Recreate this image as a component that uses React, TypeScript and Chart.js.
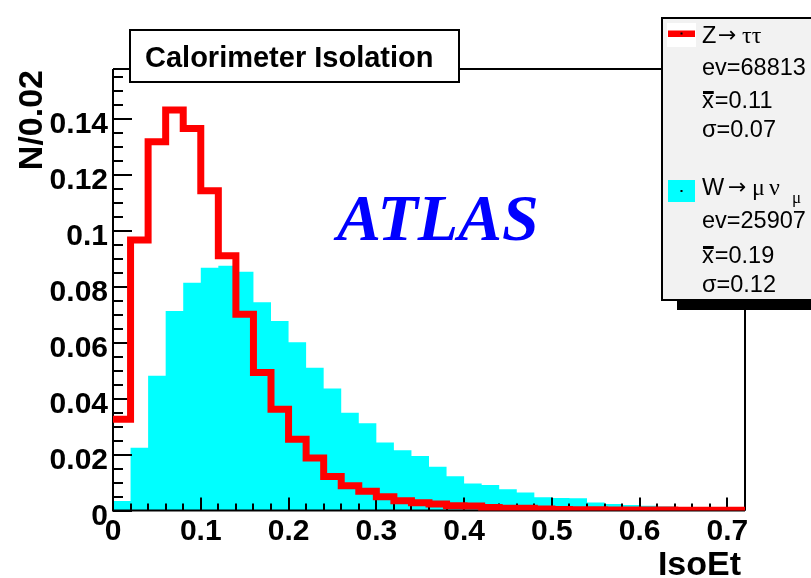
import React, { useEffect, useRef } from "react";
import { Chart, registerables } from "chart.js";

Chart.register(...registerables);

// ---- data ----
const binEdges = [
  0, 0.02, 0.04, 0.06, 0.08, 0.1, 0.12, 0.14, 0.16, 0.18, 0.2, 0.22, 0.24,
  0.26, 0.28, 0.3, 0.32, 0.34, 0.36, 0.38, 0.4, 0.42, 0.44, 0.46, 0.48, 0.5,
  0.52, 0.54, 0.56, 0.58, 0.6, 0.62, 0.64, 0.66, 0.68, 0.7, 0.72,
];

// Z -> tau tau (red outline), N/0.02 per bin
const zTauTau = [
  0.0327, 0.0968, 0.132, 0.1433, 0.1367, 0.1144, 0.0912, 0.0702, 0.0494,
  0.0362, 0.0255, 0.0188, 0.0122, 0.0089, 0.0069, 0.0049, 0.0035, 0.0028,
  0.0023, 0.0017, 0.0016, 0.0011, 0.0008, 0.0008, 0.0005, 0.0004, 0.0003,
  0.0003, 0.0002, 0.0002, 0.0002, 0.0002, 0.0001, 0.0001, 0.0001, 0.0001,
];

// W -> mu nu (cyan filled)
const wMuNu = [
  0.0034, 0.0225, 0.0482, 0.0714, 0.0815, 0.0869, 0.0876, 0.0854, 0.0745,
  0.0678, 0.0602, 0.0511, 0.0437, 0.035, 0.0312, 0.0243, 0.0216, 0.0195,
  0.0157, 0.0123, 0.0097, 0.0091, 0.0076, 0.0064, 0.0047, 0.0045, 0.0044,
  0.0029, 0.0023, 0.002, 0.0017, 0.0014, 0.0009, 0.0006, 0.0004, 0.0003,
];

const xTickValues = [0, 0.1, 0.2, 0.3, 0.4, 0.5, 0.6, 0.7];
const xTickLabels = ["0", "0.1", "0.2", "0.3", "0.4", "0.5", "0.6", "0.7"];
const yTickValues = [0, 0.02, 0.04, 0.06, 0.08, 0.1, 0.12, 0.14];
const yTickLabels = ["0", "0.02", "0.04", "0.06", "0.08", "0.1", "0.12", "0.14"];

const X_MIN = 0;
const X_MAX = 0.72;
const Y_MIN = 0;
const Y_MAX = 0.158;

const titleText = "Calorimeter Isolation";
const xTitle = "IsoEt";
const yTitle = "N/0.02";
const statsZ = { name: "Z", ev: "ev=68813", mean: "=0.11", sigma: "σ=0.07" };
const statsW = { name: "W", ev: "ev=25907", mean: "=0.19", sigma: "σ=0.12" };

const SANS = '"Liberation Sans", Arial, Helvetica, sans-serif';
const SERIF = '"Liberation Serif", "Times New Roman", serif';

function histPoints(values: number[]) {
  return binEdges.map((x, i) => ({ x, y: values[Math.min(i, values.length - 1)] }));
}

const rootDecor = {
  id: "rootDecor",
  afterDatasetDraw(chart: any, args: any) {
    if (args.index !== 1) return;
    const { ctx, chartArea: a, scales } = chart;
    const xs = scales.x;
    const ys = scales.y;
    ctx.save();
    ctx.strokeStyle = "#000";
    ctx.lineWidth = 2;
    // frame
    ctx.beginPath();
    ctx.moveTo(a.left, a.top);
    ctx.lineTo(a.right, a.top);
    ctx.lineTo(a.right, a.bottom);
    ctx.stroke();
    // axes
    ctx.beginPath();
    ctx.moveTo(a.left - 1, a.bottom);
    ctx.lineTo(a.right, a.bottom);
    ctx.moveTo(a.left, a.bottom + 1);
    ctx.lineTo(a.left, a.top);
    ctx.stroke();
    // x ticks (inside)
    ctx.beginPath();
    for (let i = 0; i <= 36; i++) {
      const px = Math.round(xs.getPixelForValue(i * 0.02));
      const len = i % 5 === 0 ? 13 : 7;
      ctx.moveTo(px, a.bottom);
      ctx.lineTo(px, a.bottom - len);
    }
    // y ticks (inside)
    for (let i = 0; i * 0.005 <= Y_MAX; i++) {
      const py = Math.round(ys.getPixelForValue(i * 0.005));
      const len = i % 4 === 0 ? 19 : 10;
      ctx.moveTo(a.left, py);
      ctx.lineTo(a.left + len, py);
    }
    ctx.stroke();
    ctx.restore();
  },
  afterDraw(chart: any) {
    const { ctx, chartArea: a, scales } = chart;
    const xs = scales.x;
    const ys = scales.y;
    ctx.save();
    ctx.fillStyle = "#000";
    // tick labels
    ctx.font = `bold 30px ${SANS}`;
    ctx.textBaseline = "alphabetic";
    ctx.textAlign = "right";
    yTickValues.forEach((v, i) => {
      const py = ys.getPixelForValue(v);
      ctx.fillText(yTickLabels[i], a.left - 5, py + 14);
    });
    ctx.textAlign = "center";
    xTickValues.forEach((v, i) => {
      const px = xs.getPixelForValue(v);
      ctx.fillText(xTickLabels[i], px, a.bottom + 29);
    });
    // axis titles
    ctx.font = `bold 34px ${SANS}`;
    ctx.textAlign = "right";
    ctx.fillText(xTitle, a.right - 4, 575);
    ctx.save();
    ctx.translate(42, a.top + 1);
    ctx.rotate(-Math.PI / 2);
    ctx.fillText(yTitle, 0, 0);
    ctx.restore();

    // title box
    ctx.fillStyle = "#fff";
    ctx.fillRect(130, 30, 329, 52);
    ctx.strokeStyle = "#000";
    ctx.lineWidth = 2;
    ctx.strokeRect(130, 30, 329, 52);
    ctx.fillStyle = "#000";
    ctx.font = `bold 29px ${SANS}`;
    ctx.textAlign = "left";
    ctx.fillText(titleText, 145, 67);

    // ATLAS
    ctx.fillStyle = "#0000ff";
    ctx.font = `bold italic 66px ${SERIF}`;
    ctx.fillText("ATLAS", 337, 240);

    // stats / legend box
    ctx.fillStyle = "#000";
    ctx.fillRect(677, 298, 140, 12);
    ctx.fillStyle = "#f2f2f2";
    ctx.fillRect(662, 18, 160, 282);
    ctx.strokeStyle = "#000";
    ctx.lineWidth = 2;
    ctx.strokeRect(662, 18, 160, 282);

    // legend symbols
    ctx.fillStyle = "#ffffff";
    ctx.fillRect(667, 23, 29, 24);
    ctx.fillStyle = "#ff0000";
    ctx.fillRect(668, 30.5, 27, 6.5);
    ctx.fillStyle = "#00ffff";
    ctx.fillRect(668, 180, 27, 22);
    ctx.fillStyle = "#000";
    ctx.fillRect(680.5, 32.5, 2, 2);
    ctx.fillRect(680.5, 190, 2, 2);

    // stats text
    const tx = 702;
    const statFont = `23.5px ${SANS}`;
    const greekFont = `24px ${SERIF}`;
    const arrowFont = `22px "DejaVu Sans", ${SANS}`;
    ctx.font = statFont;
    ctx.fillStyle = "#000";
    ctx.textAlign = "left";
    const drawMean = (baseline: number, txt: string) => {
      ctx.font = statFont;
      ctx.fillText("x", tx, baseline);
      const w = ctx.measureText("x").width;
      ctx.fillRect(tx + 1, baseline - 17, w - 1, 3);
      ctx.fillText(txt, tx + w + 1, baseline);
    };
    // Z -> tau tau
    ctx.font = statFont;
    ctx.fillText(statsZ.name, tx, 43);
    ctx.font = arrowFont;
    ctx.fillText("→", 718, 42);
    ctx.font = greekFont;
    ctx.fillText("ττ", 742, 43);
    ctx.font = statFont;
    ctx.fillText(statsZ.ev, tx, 75);
    drawMean(108, statsZ.mean);
    ctx.font = statFont;
    ctx.fillText(statsZ.sigma, tx, 137);
    // W -> mu nu_mu
    ctx.fillText(statsW.name, tx, 195);
    ctx.font = arrowFont;
    ctx.fillText("→", 728, 194);
    ctx.font = greekFont;
    ctx.fillText("μ", 752, 195);
    ctx.fillText("ν", 769, 195);
    ctx.font = `17px ${SERIF}`;
    ctx.fillText("μ", 792, 203);
    ctx.font = statFont;
    ctx.fillText(statsW.ev, tx, 228);
    drawMean(263, statsW.mean);
    ctx.font = statFont;
    ctx.fillText(statsW.sigma, tx, 292);
    ctx.restore();
  },
};

export default function App() {
  const ref = useRef<HTMLCanvasElement | null>(null);
  useEffect(() => {
    document.body.style.margin = "0";
    const canvas = ref.current;
    if (!canvas) return;
    const chart = new Chart(canvas, {
      type: "line",
      data: {
        datasets: [
          {
            label: "Z → ττ",
            data: histPoints(zTauTau),
            stepped: true,
            borderColor: "#ff0000",
            borderWidth: 7,
            borderJoinStyle: "miter",
            borderCapStyle: "butt",
            pointRadius: 0,
            fill: false,
            order: 0,
          },
          {
            label: "W → μν",
            data: histPoints(wMuNu),
            stepped: true,
            borderColor: "rgba(0,0,0,0)",
            borderWidth: 0,
            backgroundColor: "#00ffff",
            pointRadius: 0,
            fill: "origin",
            order: 1,
          },
        ],
      },
      options: {
        responsive: false,
        animation: false,
        devicePixelRatio: 1,
        events: [],
        layout: { padding: { left: 113, right: 66, top: 69, bottom: 67.5 } },
        scales: {
          x: { type: "linear", min: X_MIN, max: X_MAX, display: false },
          y: { type: "linear", min: Y_MIN, max: Y_MAX, display: false },
        },
        plugins: {
          legend: { display: false },
          tooltip: { enabled: false },
          title: { display: false },
        },
      },
      plugins: [rootDecor],
    } as any);
    return () => chart.destroy();
  }, []);
  return (
    <div style={{ width: 811, height: 578, background: "#fff" }}>
      <canvas ref={ref} width={811} height={578} style={{ display: "block" }} />
    </div>
  );
}
